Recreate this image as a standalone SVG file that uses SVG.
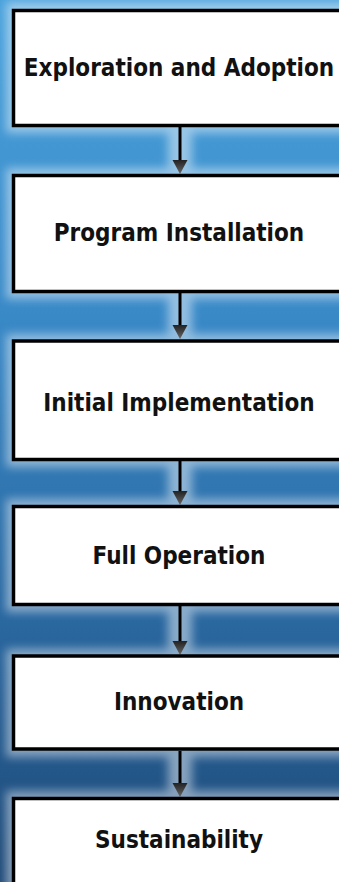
<svg xmlns="http://www.w3.org/2000/svg" width="339" height="882" viewBox="0 0 339 882">
<style>
.box{fill:#ffffff;stroke:#000000;stroke-width:3.5}
.lbl{font-family:"DejaVu Sans Condensed","DejaVu Sans",Verdana,sans-serif;font-stretch:condensed;font-weight:bold;font-size:24px;fill:#111111;text-anchor:middle;dominant-baseline:central}
.conn{stroke:#000000;stroke-width:3;fill:none}
.head{fill:url(#hg)}
.glow{fill:#ffffff;opacity:0.45}
</style>
<defs>
<linearGradient id="bg" x1="0" y1="0" x2="0" y2="1">
<stop offset="0" stop-color="#4aa2dc"/>
<stop offset="0.35" stop-color="#3a8ac8"/>
<stop offset="0.7" stop-color="#2a68a0"/>
<stop offset="1" stop-color="#1f4a78"/>
</linearGradient>
<linearGradient id="hg" x1="0" y1="0" x2="0" y2="1">
<stop offset="0" stop-color="#222222"/>
<stop offset="1" stop-color="#666666"/>
</linearGradient>
<filter id="blur" x="-20%" y="-20%" width="140%" height="140%">
<feGaussianBlur stdDeviation="5"/>
</filter>
</defs>
<rect x="0" y="0" width="339" height="882" fill="url(#bg)"/>
<g filter="url(#blur)" class="glow">
<rect x="6" y="2" width="345" height="131"/>
<rect x="6" y="168" width="345" height="131"/>
<rect x="6" y="334" width="345" height="133"/>
<rect x="6" y="499" width="345" height="113"/>
<rect x="6" y="649" width="345" height="108"/>
<rect x="6" y="791" width="345" height="100"/>
<rect x="168" y="120" width="24" height="700"/>
</g>
<g id="connectors">
<line class="conn" x1="180" y1="127" x2="180" y2="162"/>
<polygon class="head" points="172.5,160 187.5,160 180,174"/>
<line class="conn" x1="180" y1="293" x2="180" y2="327"/>
<polygon class="head" points="172.5,325 187.5,325 180,339"/>
<line class="conn" x1="180" y1="461" x2="180" y2="493"/>
<polygon class="head" points="172.5,491 187.5,491 180,505"/>
<line class="conn" x1="180" y1="606" x2="180" y2="643"/>
<polygon class="head" points="172.5,641 187.5,641 180,655"/>
<line class="conn" x1="180" y1="751" x2="180" y2="785"/>
<polygon class="head" points="172.5,783 187.5,783 180,797"/>
</g>
<g id="n1"><rect class="box" x="13.5" y="10.5" width="340" height="115"/><text class="lbl" x="179" y="68">Exploration and Adoption</text></g>
<g id="n2"><rect class="box" x="13.5" y="175.5" width="340" height="116"/><text class="lbl" x="179" y="233">Program Installation</text></g>
<g id="n3"><rect class="box" x="13.5" y="341" width="340" height="118.5"/><text class="lbl" x="179" y="403">Initial Implementation</text></g>
<g id="n4"><rect class="box" x="13.5" y="506.5" width="340" height="98"/><text class="lbl" x="179" y="556">Full Operation</text></g>
<g id="n5"><rect class="box" x="13.5" y="656" width="340" height="93"/><text class="lbl" x="179" y="702">Innovation</text></g>
<g id="n6"><rect class="box" x="13.5" y="798.5" width="340" height="100"/><text class="lbl" x="179" y="840">Sustainability</text></g>
</svg>
